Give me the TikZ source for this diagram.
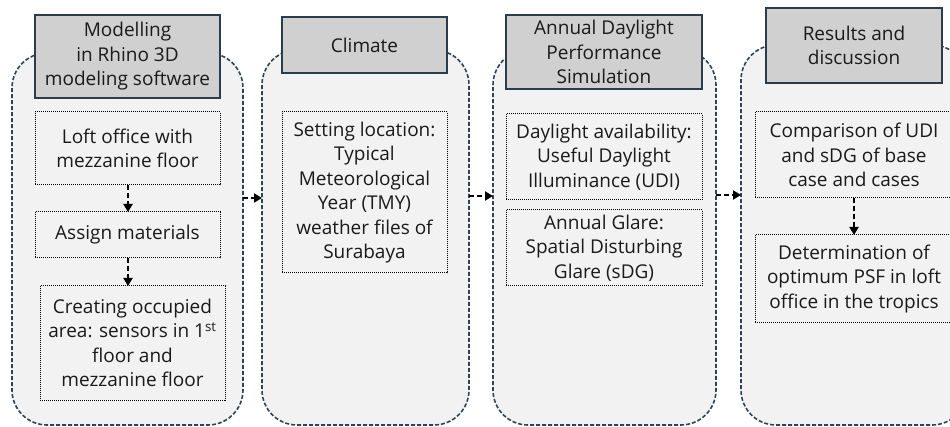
\documentclass[tikz,border=0pt]{standalone}
\usepackage{fontspec}
\setmainfont{Open Sans}
\usetikzlibrary{arrows.meta}
\definecolor{panelfill}{HTML}{F2F2F2}
\definecolor{paneledge}{HTML}{2E4453}
\definecolor{headfill}{HTML}{D0D0D0}
\definecolor{headedge}{HTML}{2B3D4C}
\definecolor{txtcol}{HTML}{1A1A1A}
\begin{document}
\begin{tikzpicture}[x=1pt,y=-1pt,
 every node/.style={outer sep=0pt, inner sep=0pt},
 panel/.style={draw=paneledge, fill=panelfill, line width=1.6pt, dash pattern=on 4pt off 2pt, rounded corners=35pt, anchor=north west},
 head/.style={draw=headedge, fill=headfill, line width=1.6pt, anchor=north west, txt},
 inbox/.style={draw=black, line width=1pt, dash pattern=on 1pt off 1pt, fill=panelfill, anchor=north west, txt},
 txt/.style={font=\fontsize{19}{24.5}\selectfont, align=center, text=txtcol},
 flow/.style={line width=2.8pt, dash pattern=on 5pt off 3pt, -{Triangle[length=8pt,width=9pt]}}
]
\useasboundingbox (0,0) rectangle (950,427);
% panels
\node[panel, minimum width=231pt, minimum height=372pt] (P1) at (12,53) {};
\node[panel, minimum width=207pt, minimum height=375pt] (P2) at (262,50) {};
\node[panel, minimum width=223pt, minimum height=375pt] (P3) at (493,50) {};
\node[panel, minimum width=226pt, minimum height=380pt] (P4) at (741,45) {};
% headers
\node[head, minimum width=185pt, minimum height=83pt] (H1) at (35,15) {Modelling\\in Rhino 3D\\modeling software};
\node[head, minimum width=165pt, minimum height=56pt] (H2) at (282,17) {Climate};
\node[head, minimum width=196pt, minimum height=74pt] (H3) at (506,15) {Annual Daylight\\Performance\\Simulation};
\node[head, minimum width=176pt, minimum height=75pt] (H4) at (766,8) {Results and\\discussion};
% inner boxes
\node[inbox, minimum width=185pt, minimum height=73pt] (B1a) at (35,112) {Loft office with\\mezzanine floor};
\node[inbox, minimum width=185pt, minimum height=46pt] (B1b) at (35,212) {Assign materials};
\node[inbox, minimum width=185pt, minimum height=114pt] (B1c) at (40,286) {Creating occupied\\area: sensors in 1\textsuperscript{st}\\floor and\\mezzanine floor};
\node[inbox, minimum width=165pt, minimum height=161pt] (B2) at (282,112) {Setting location:\\Typical\\Meteorological\\Year (TMY)\\weather files of\\Surabaya};
\node[inbox, minimum width=196pt, minimum height=86pt] (B3a) at (506,114) {Daylight availability:\\Useful Daylight\\Illuminance (UDI)};
\node[inbox, minimum width=196pt, minimum height=76pt] (B3b) at (506,210) {Annual Glare:\\Spatial Disturbing\\Glare (sDG)};
\node[inbox, minimum width=198pt, minimum height=86pt] (B4a) at (755,112) {Comparison of UDI\\and sDG of base\\case and cases};
\node[inbox, minimum width=198pt, minimum height=88pt] (B4b) at (755,235) {Determination of\\optimum PSF in loft\\office in the tropics};
% arrows inside panels
\coordinate (c1) at (128,0);
\draw[flow] (B1a.south -| c1) -- (B1b.north -| c1);
\draw[flow] (B1b.south -| c1) -- (B1c.north -| c1);
\draw[flow] (B4a.south) -- (B4b.north);
% arrows between panels
\coordinate (ay1) at (0,198);
\coordinate (ay2) at (0,196);
\coordinate (ay3) at (0,195);
\draw[flow] (P1.east |- ay1) -- (P2.west |- ay1);
\draw[flow] (P2.east |- ay2) -- (P3.west |- ay2);
\draw[flow] (P3.east |- ay3) -- (P4.west |- ay3);
\end{tikzpicture}
\end{document}
